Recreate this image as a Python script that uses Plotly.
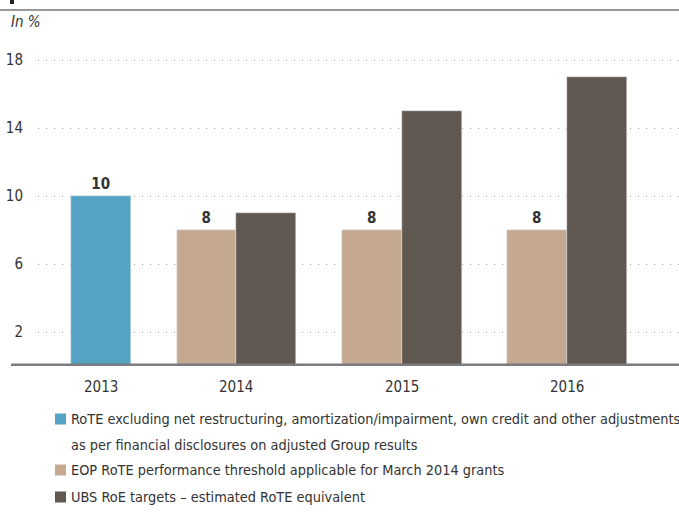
import plotly.graph_objects as go

# Return on tangible equity, in %
years = ["2013", "2014", "2015", "2016"]
rote_actual = [10, None, None, None]
eop_threshold = [None, 8, 8, 8]
roe_targets = [None, 9, 15, 17]

y_ticks = [2, 6, 10, 14, 18]

legend_labels = [
    "RoTE excluding net restructuring, amortization/impairment, own credit and other adjustments",
    "as per financial disclosures on adjusted Group results",
    "EOP RoTE performance threshold applicable for March 2014 grants",
    "UBS RoE targets \u2013 estimated RoTE equivalent",
]

BLUE = "#55a3c2"
TAN = "#c4a890"
DARK = "#615851"
AXIS = "#7b7b80"
TEXT = "#333333"
FONT = "DejaVu Sans Condensed, Liberation Sans Narrow, sans-serif"

W, H = 679, 522
ML, MR, MT, MB = 38, 0, 40, 156
plot_w = W - ML - MR
plot_h = H - MT - MB

x_idx = list(range(len(years)))
bar_w = 0.3625
x_lo, x_hi = -0.1994, 3.674
y_top = plot_h / 17.0


def labels(vals):
    return [f"<b>{v}</b>" if v is not None else "" for v in vals]


fig = go.Figure()
fig.add_bar(x=x_idx, y=rote_actual, width=bar_w, offset=0, marker_color=BLUE,
            text=labels(rote_actual), textposition="outside", cliponaxis=False,
            textfont=dict(size=15, color=TEXT, family=FONT), showlegend=False)
fig.add_bar(x=x_idx, y=eop_threshold, width=bar_w, offset=-bar_w, marker_color=TAN,
            text=labels(eop_threshold), textposition="outside", cliponaxis=False,
            textfont=dict(size=15, color=TEXT, family=FONT), showlegend=False)
fig.add_bar(x=x_idx, y=roe_targets, width=bar_w, offset=0, marker_color=DARK,
            showlegend=False)

# Year labels sit under the middle of each year's bars
for i, yr in enumerate(years):
    has_left = eop_threshold[i] is not None
    has_right = rote_actual[i] is not None or roe_targets[i] is not None
    xc = i if (has_left and has_right) else (i + bar_w / 2 if has_right else i - bar_w / 2)
    fig.add_annotation(x=xc, y=0, xref="x", yref="y", text=yr, showarrow=False,
                       yanchor="top", yshift=-10, font=dict(size=15, color=TEXT, family=FONT))

# Thick baseline and top rule
fig.add_shape(type="line", xref="paper", yref="y", x0=-27 / plot_w, x1=1, y0=0, y1=0,
              line=dict(color=AXIS, width=5), layer="above")
fig.add_shape(type="line", xref="paper", yref="paper", x0=-ML / plot_w, x1=1,
              y0=1 + 30 / plot_h, y1=1 + 30 / plot_h, line=dict(color="#777777", width=1.5))
fig.add_shape(type="rect", xref="paper", yref="paper", x0=-28 / plot_w, x1=-24 / plot_w,
              y0=1 + 36 / plot_h, y1=1 + 42 / plot_h, line_width=0, fillcolor="#222222")

fig.add_annotation(x=-ML / plot_w + 9 / plot_w, y=1 + 18 / plot_h, xref="paper", yref="paper",
                   text="<i>In %</i>", showarrow=False, xanchor="left", yanchor="middle",
                   font=dict(size=15, color=TEXT, family=FONT))

# Legend drawn below the chart
legend_rows = [(BLUE, legend_labels[0], 419), (None, legend_labels[1], 445),
               (TAN, legend_labels[2], 470), (DARK, legend_labels[3], 497)]
for color, label, ypx in legend_rows:
    yp = 1 - (ypx - MT) / plot_h
    if color:
        fig.add_shape(type="rect", xref="paper", yref="paper",
                      x0=(55 - ML) / plot_w, x1=(66 - ML) / plot_w,
                      y0=yp - 5.5 / plot_h, y1=yp + 5.5 / plot_h,
                      line_width=0, fillcolor=color)
    fig.add_annotation(x=(69 - ML) / plot_w, y=yp, xref="paper", yref="paper", text=label,
                       showarrow=False, xanchor="left", yanchor="middle",
                       font=dict(size=14.4, color=TEXT, family=FONT))

fig.update_layout(
    width=W, height=H, margin=dict(l=ML, r=MR, t=MT, b=MB),
    plot_bgcolor="white", paper_bgcolor="white",
    barmode="overlay", bargap=0,
    font=dict(family=FONT, color=TEXT, size=15),
)
fig.update_xaxes(range=[x_lo, x_hi], showticklabels=False, showgrid=False,
                 zeroline=False, showline=False, ticks="")
fig.update_yaxes(range=[0, y_top], tickvals=y_ticks, showgrid=True, gridcolor="#a0a0a0",
                 griddash="1.3px,6.7px", gridwidth=1.3, zeroline=False, showline=False,
                 ticks="", ticklabelstandoff=14, tickfont=dict(size=15, color=TEXT, family=FONT))

fig.write_html("out.html")
